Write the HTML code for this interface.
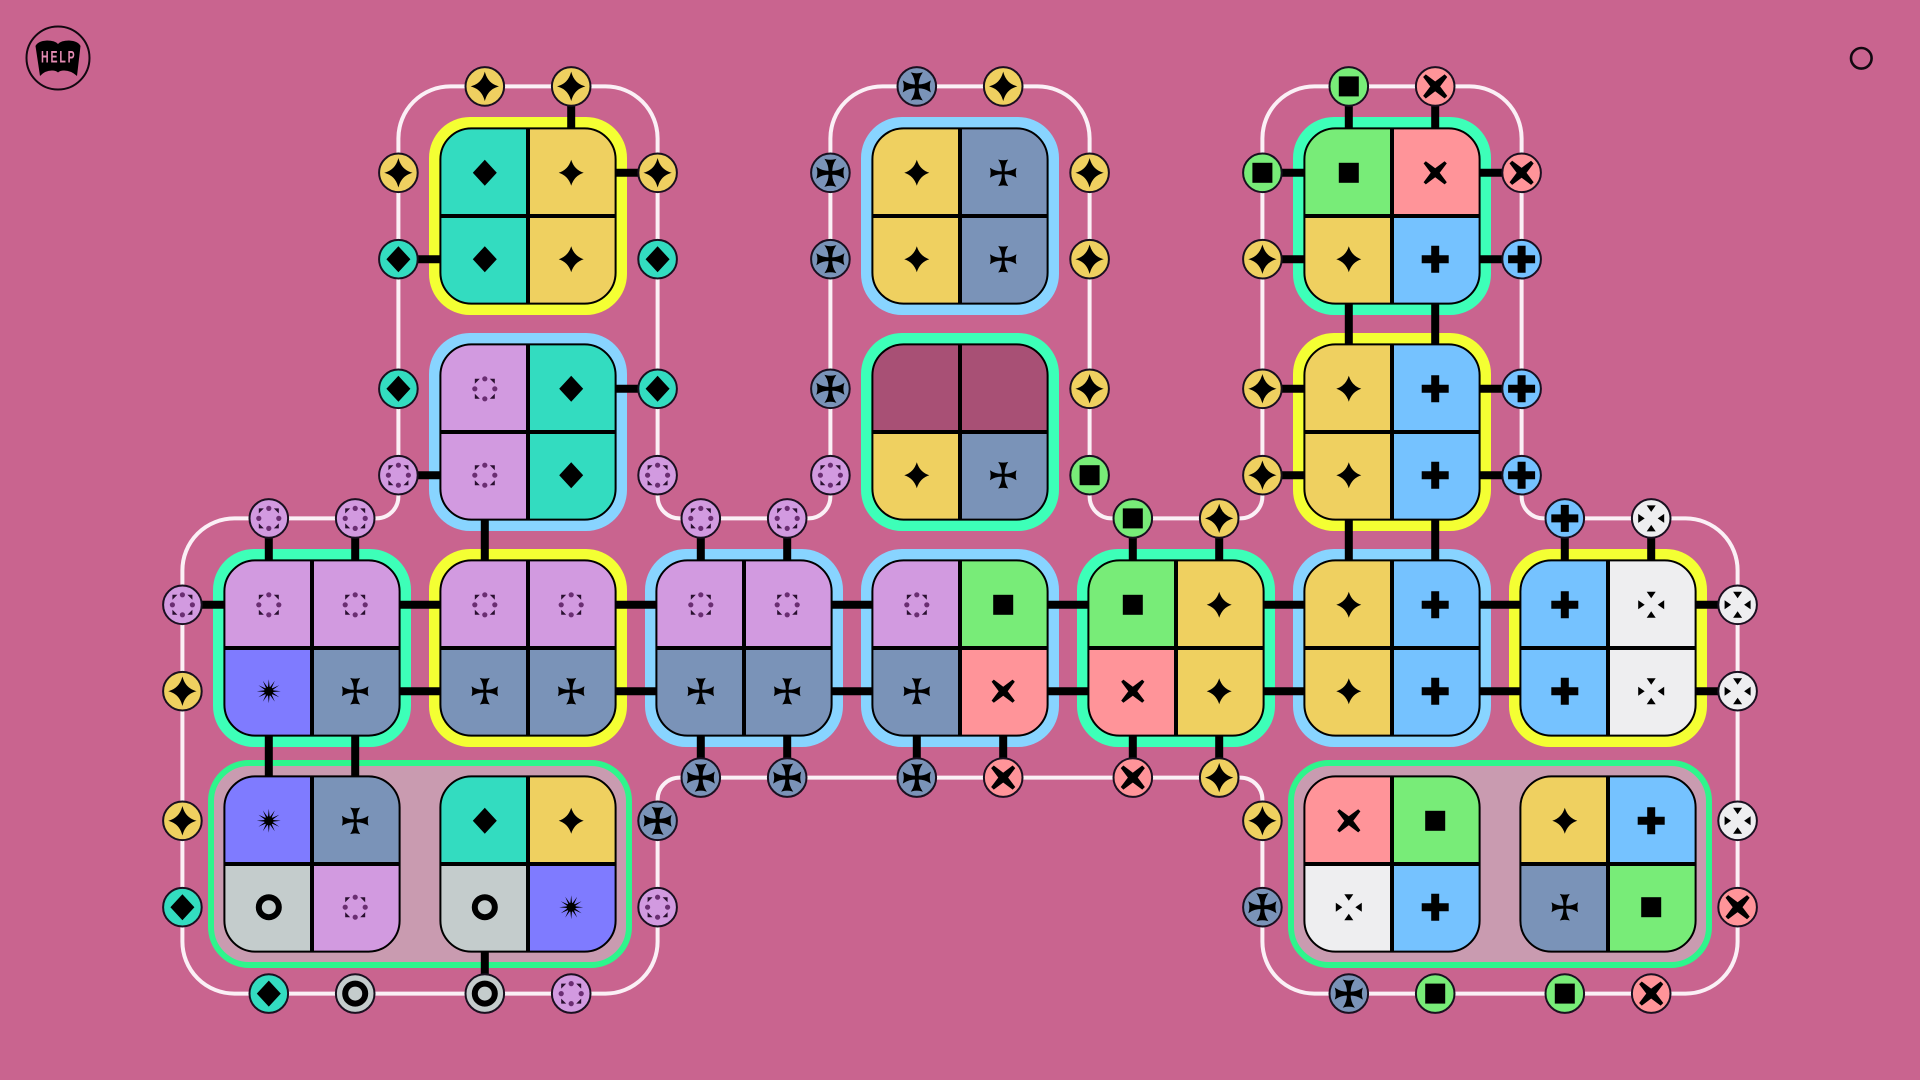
<!DOCTYPE html>
<html lang="en"><head><meta charset="utf-8"><title>Help puzzle</title>
<style>html,body{margin:0;padding:0;background:#C9648F;width:1920px;height:1080px;overflow:hidden}svg{display:block}</style></head>
<body>
<svg xmlns="http://www.w3.org/2000/svg" width="1920" height="1080" viewBox="0 0 1920 1080">
<defs>
<clipPath id="clip"><rect x="-87.6" y="-87.6" width="175.2" height="175.2" rx="31"/></clipPath>
<path id="Gs" d="M0,-13 Q3,-3 12.5,0 Q3,3 0,13 Q-3,3 -12.5,0 Q-3,-3 0,-13Z" fill="#000"/>
<path id="Gd" d="M0,-13 L12,0 L0,13 L-12,0Z" fill="#000"/>
<g id="Go"><g fill="#6A2E72"><circle cx="0" cy="-10" r="2.6"/><circle cx="10" cy="0" r="2.6"/><circle cx="0" cy="10" r="2.6"/><circle cx="-10" cy="0" r="2.6"/></g><g fill="#2A1030"><polygon points="5,-10 10,-10 10,-5"/><polygon points="5,10 10,10 10,5"/><polygon points="-5,10 -10,10 -10,5"/><polygon points="-5,-10 -10,-10 -10,-5"/></g></g>
<path id="Gl" d="M-1.4,-1.4 Q-1.4,-8 -5,-13.3 Q0,-11.8 5,-13.3 Q1.4,-8 1.4,-1.4 Q8,-1.4 13.3,-5 Q11.8,0 13.3,5 Q8,1.4 1.4,1.4 Q1.4,8 5,13.3 Q0,11.8 -5,13.3 Q-1.4,8 -1.4,1.4 Q-8,1.4 -13.3,5 Q-11.8,0 -13.3,-5 Q-8,-1.4 -1.4,-1.4Z" fill="#000"/>
<rect id="Gg" x="-10" y="-10" width="20" height="20" fill="#000"/>
<polygon id="Gx" points="0,-4.5 9.4,-11.6 11.6,-9.4 4.5,0 11.6,9.4 9.4,11.6 0,4.5 -9.4,11.6 -11.6,9.4 -4.5,0 -11.6,-9.4 -9.4,-11.6" fill="#000"/>
<path id="Gp" d="M-4,-13.5 H4 V-4 H13.5 V4 H4 V13.5 H-4 V4 H-13.5 V-4 H-4Z" fill="#000"/>
<path id="Gw" d="M-4.5,-13 H4.5 L0,-6.5Z M-4.5,13 H4.5 L0,6.5Z M-13,-4.5 V4.5 L-6.5,0Z M13,-4.5 V4.5 L6.5,0Z" fill="#000"/>
<g id="Gb" fill="#000"><circle r="4.6"/><polygon points="12,0 3.4,.9 10.4,6 2.5,2.5 6,10.4 .9,3.4 0,12 -.9,3.4 -6,10.4 -2.5,2.5 -10.4,6 -3.4,.9 -12,0 -3.4,-.9 -10.4,-6 -2.5,-2.5 -6,-10.4 -.9,-3.4 0,-12 .9,-3.4 6,-10.4 2.5,-2.5 10.4,-6 3.4,-.9"/></g>
<circle id="Gr" r="10" fill="none" stroke="#000" stroke-width="6"/>

<g id="cs"><rect x="-43.8" y="-43.8" width="87.6" height="87.6" fill="#EFD060"/><use href="#Gs"/></g>
<g id="cd"><rect x="-43.8" y="-43.8" width="87.6" height="87.6" fill="#33DCC0"/><use href="#Gd"/></g>
<g id="co"><rect x="-43.8" y="-43.8" width="87.6" height="87.6" fill="#D29AE0"/><use href="#Go"/></g>
<g id="cl"><rect x="-43.8" y="-43.8" width="87.6" height="87.6" fill="#7A93B8"/><use href="#Gl"/></g>
<g id="cg"><rect x="-43.8" y="-43.8" width="87.6" height="87.6" fill="#78EC78"/><use href="#Gg"/></g>
<g id="cx"><rect x="-43.8" y="-43.8" width="87.6" height="87.6" fill="#FF9499"/><use href="#Gx"/></g>
<g id="cp"><rect x="-43.8" y="-43.8" width="87.6" height="87.6" fill="#75C2FF"/><use href="#Gp"/></g>
<g id="cw"><rect x="-43.8" y="-43.8" width="87.6" height="87.6" fill="#EEEEF0"/><use href="#Gw"/></g>
<g id="cb"><rect x="-43.8" y="-43.8" width="87.6" height="87.6" fill="#7F7BFF"/><use href="#Gb"/></g>
<g id="cr"><rect x="-43.8" y="-43.8" width="87.6" height="87.6" fill="#C4CCCC"/><use href="#Gr"/></g>
<rect id="ck" x="-43.8" y="-43.8" width="87.6" height="87.6" fill="#A85075"/>

<g id="F"><rect x="-2" y="-87.6" width="4" height="175.2" fill="#000"/><rect x="-87.6" y="-2" width="175.2" height="4" fill="#000"/><rect x="-87.6" y="-87.6" width="175.2" height="175.2" rx="31" fill="none" stroke="#000" stroke-width="2"/></g>

<g id="ps"><circle r="19.3" fill="#EFD060" stroke="#1A1020" stroke-width="2"/><use href="#Gs" stroke="#000" stroke-width="1"/></g>
<g id="pd"><circle r="19.3" fill="#33DCC0" stroke="#1A1020" stroke-width="2"/><use href="#Gd"/></g>
<g id="po"><circle r="19.3" fill="#D29AE0" stroke="#1A1020" stroke-width="2"/><use href="#Go"/></g>
<g id="pl"><circle r="19.3" fill="#7A93B8" stroke="#1A1020" stroke-width="2"/><use href="#Gl" stroke="#000" stroke-width=".9"/></g>
<g id="pg"><circle r="19.3" fill="#78EC78" stroke="#1A1020" stroke-width="2"/><use href="#Gg"/></g>
<g id="px"><circle r="19.3" fill="#FF9499" stroke="#1A1020" stroke-width="2"/><use href="#Gx" stroke="#000" stroke-width=".7"/></g>
<g id="pp"><circle r="19.3" fill="#75C2FF" stroke="#1A1020" stroke-width="2"/><use href="#Gp"/></g>
<g id="pw"><circle r="19.3" fill="#EEEEF0" stroke="#1A1020" stroke-width="2"/><use href="#Gw"/></g>
<g id="pr"><circle r="19.3" fill="#C4CCCC" stroke="#1A1020" stroke-width="2"/><use href="#Gr"/></g>

<rect id="By" x="-99" y="-99" width="198" height="198" rx="41" fill="#F4FF33"/>
<rect id="Bb" x="-99" y="-99" width="198" height="198" rx="41" fill="#88D4FF"/>
<rect id="Bg" x="-99" y="-99" width="198" height="198" rx="41" fill="#3DFFB8"/>
</defs>

<rect width="1920" height="1080" fill="#C9648F"/>

<!-- help icon -->
<circle cx="58" cy="58" r="31.5" fill="none" stroke="#120810" stroke-width="2"/>
<path d="M35.5,46 Q38,41 47,40.5 Q55,40.5 58,44 Q61,40.5 69,40.5 Q78,41 80.5,46 L77,76 Q71,70.5 64,70.5 Q60,70.5 58,72.5 Q56,70.5 52,70.5 Q45,70.5 40,76 Z" fill="#000"/>
<text transform="translate(58.8,62.5) scale(.62,1)" text-anchor="middle" font-family="'Liberation Sans',sans-serif" font-weight="700" font-size="17" letter-spacing="3" fill="#E58DB4">HELP</text>
<circle cx="1861.3" cy="58.3" r="10.3" fill="none" stroke="#120810" stroke-width="2.6"/>

<!-- rail -->
<path fill="none" stroke="#FBF0F6" stroke-width="4" d="M182.4,570.4 A52 52 0 0 1 234.4,518.4 H376.4 A22 22 0 0 0 398.4,496.4 V138.4 A52 52 0 0 1 450.4,86.4 H605.6 A52 52 0 0 1 657.6,138.4 V496.4 A22 22 0 0 0 679.6,518.4 H808.4 A22 22 0 0 0 830.4,496.4 V138.4 A52 52 0 0 1 882.4,86.4 H1037.6 A52 52 0 0 1 1089.6,138.4 V496.4 A22 22 0 0 0 1111.6,518.4 H1240.4 A22 22 0 0 0 1262.4,496.4 V138.4 A52 52 0 0 1 1314.4,86.4 H1469.6 A52 52 0 0 1 1521.6,138.4 V496.4 A22 22 0 0 0 1543.6,518.4 H1685.6 A52 52 0 0 1 1737.6,570.4 V941.6 A52 52 0 0 1 1685.6,993.6 H1314.4 A52 52 0 0 1 1262.4,941.6 V799.6 A22 22 0 0 0 1240.4,777.6 H679.6 A22 22 0 0 0 657.6,799.6 V941.6 A52 52 0 0 1 605.6,993.6 H234.4 A52 52 0 0 1 182.4,941.6 Z"/>

<!-- borders -->
<use href="#By" x="528" y="216"/>
<use href="#Bb" x="528" y="432"/>
<use href="#Bb" x="960" y="216"/>
<use href="#Bg" x="960" y="432"/>
<use href="#Bg" x="1392" y="216"/>
<use href="#By" x="1392" y="432"/>
<use href="#Bg" x="312" y="648"/>
<use href="#By" x="528" y="648"/>
<use href="#Bb" x="744" y="648"/>
<use href="#Bb" x="960" y="648"/>
<use href="#Bg" x="1176" y="648"/>
<use href="#Bb" x="1392" y="648"/>
<use href="#By" x="1608" y="648"/>
<rect x="211" y="763" width="418" height="202" rx="38" fill="#C99BB0" stroke="#2EF58C" stroke-width="6"/>
<rect x="1291" y="763" width="418" height="202" rx="38" fill="#C99BB0" stroke="#2EF58C" stroke-width="6"/>

<!-- connectors -->
<g stroke="#000" stroke-width="8" fill="none">
<path d="M571.2,86.4V216 M528,172.8H657.6 M398.4,259.2H528 M528,388.8H657.6 M398.4,475.2H528 M484.8,432V648"/>
<path d="M1348.8,86.4V648 M1435.2,86.4V648 M1392,172.8H1521.6 M1392,259.2H1521.6 M1262.4,259.2H1392 M1262.4,172.8H1392 M1392,388.8H1521.6 M1392,475.2H1521.6 M1262.4,388.8H1392 M1262.4,475.2H1392"/>
<path d="M182.4,604.8H1737.6 M312,691.2H1737.6"/>
<path d="M268.8,518.4V864 M355.2,518.4V864 M700.8,518.4V777.6 M787.2,518.4V777.6 M916.8,648V777.6 M1003.2,648V777.6 M1132.8,518.4V777.6 M1219.2,518.4V777.6 M1564.8,518.4V648 M1651.2,518.4V648 M484.8,864V993.6"/>
</g>

<!-- tiles -->
<g transform="translate(528,216)"><g clip-path="url(#clip)"><use href="#cd" x="-43.2" y="-43.2"/><use href="#cs" x="43.2" y="-43.2"/><use href="#cd" x="-43.2" y="43.2"/><use href="#cs" x="43.2" y="43.2"/></g><use href="#F"/></g>
<g transform="translate(528,432)"><g clip-path="url(#clip)"><use href="#co" x="-43.2" y="-43.2"/><use href="#cd" x="43.2" y="-43.2"/><use href="#co" x="-43.2" y="43.2"/><use href="#cd" x="43.2" y="43.2"/></g><use href="#F"/></g>
<g transform="translate(960,216)"><g clip-path="url(#clip)"><use href="#cs" x="-43.2" y="-43.2"/><use href="#cl" x="43.2" y="-43.2"/><use href="#cs" x="-43.2" y="43.2"/><use href="#cl" x="43.2" y="43.2"/></g><use href="#F"/></g>
<g transform="translate(960,432)"><g clip-path="url(#clip)"><use href="#ck" x="-43.2" y="-43.2"/><use href="#ck" x="43.2" y="-43.2"/><use href="#cs" x="-43.2" y="43.2"/><use href="#cl" x="43.2" y="43.2"/></g><use href="#F"/></g>
<g transform="translate(1392,216)"><g clip-path="url(#clip)"><use href="#cg" x="-43.2" y="-43.2"/><use href="#cx" x="43.2" y="-43.2"/><use href="#cs" x="-43.2" y="43.2"/><use href="#cp" x="43.2" y="43.2"/></g><use href="#F"/></g>
<g transform="translate(1392,432)"><g clip-path="url(#clip)"><use href="#cs" x="-43.2" y="-43.2"/><use href="#cp" x="43.2" y="-43.2"/><use href="#cs" x="-43.2" y="43.2"/><use href="#cp" x="43.2" y="43.2"/></g><use href="#F"/></g>
<g transform="translate(312,648)"><g clip-path="url(#clip)"><use href="#co" x="-43.2" y="-43.2"/><use href="#co" x="43.2" y="-43.2"/><use href="#cb" x="-43.2" y="43.2"/><use href="#cl" x="43.2" y="43.2"/></g><use href="#F"/></g>
<g transform="translate(528,648)"><g clip-path="url(#clip)"><use href="#co" x="-43.2" y="-43.2"/><use href="#co" x="43.2" y="-43.2"/><use href="#cl" x="-43.2" y="43.2"/><use href="#cl" x="43.2" y="43.2"/></g><use href="#F"/></g>
<g transform="translate(744,648)"><g clip-path="url(#clip)"><use href="#co" x="-43.2" y="-43.2"/><use href="#co" x="43.2" y="-43.2"/><use href="#cl" x="-43.2" y="43.2"/><use href="#cl" x="43.2" y="43.2"/></g><use href="#F"/></g>
<g transform="translate(960,648)"><g clip-path="url(#clip)"><use href="#co" x="-43.2" y="-43.2"/><use href="#cg" x="43.2" y="-43.2"/><use href="#cl" x="-43.2" y="43.2"/><use href="#cx" x="43.2" y="43.2"/></g><use href="#F"/></g>
<g transform="translate(1176,648)"><g clip-path="url(#clip)"><use href="#cg" x="-43.2" y="-43.2"/><use href="#cs" x="43.2" y="-43.2"/><use href="#cx" x="-43.2" y="43.2"/><use href="#cs" x="43.2" y="43.2"/></g><use href="#F"/></g>
<g transform="translate(1392,648)"><g clip-path="url(#clip)"><use href="#cs" x="-43.2" y="-43.2"/><use href="#cp" x="43.2" y="-43.2"/><use href="#cs" x="-43.2" y="43.2"/><use href="#cp" x="43.2" y="43.2"/></g><use href="#F"/></g>
<g transform="translate(1608,648)"><g clip-path="url(#clip)"><use href="#cp" x="-43.2" y="-43.2"/><use href="#cw" x="43.2" y="-43.2"/><use href="#cp" x="-43.2" y="43.2"/><use href="#cw" x="43.2" y="43.2"/></g><use href="#F"/></g>
<g transform="translate(312,864)"><g clip-path="url(#clip)"><use href="#cb" x="-43.2" y="-43.2"/><use href="#cl" x="43.2" y="-43.2"/><use href="#cr" x="-43.2" y="43.2"/><use href="#co" x="43.2" y="43.2"/></g><use href="#F"/></g>
<g transform="translate(528,864)"><g clip-path="url(#clip)"><use href="#cd" x="-43.2" y="-43.2"/><use href="#cs" x="43.2" y="-43.2"/><use href="#cr" x="-43.2" y="43.2"/><use href="#cb" x="43.2" y="43.2"/></g><use href="#F"/></g>
<g transform="translate(1392,864)"><g clip-path="url(#clip)"><use href="#cx" x="-43.2" y="-43.2"/><use href="#cg" x="43.2" y="-43.2"/><use href="#cw" x="-43.2" y="43.2"/><use href="#cp" x="43.2" y="43.2"/></g><use href="#F"/></g>
<g transform="translate(1608,864)"><g clip-path="url(#clip)"><use href="#cs" x="-43.2" y="-43.2"/><use href="#cp" x="43.2" y="-43.2"/><use href="#cl" x="-43.2" y="43.2"/><use href="#cg" x="43.2" y="43.2"/></g><use href="#F"/></g>

<!-- ports -->
<use href="#ps" x="484.8" y="86.4"/><use href="#ps" x="571.2" y="86.4"/>
<use href="#ps" x="398.4" y="172.8"/><use href="#pd" x="398.4" y="259.2"/><use href="#pd" x="398.4" y="388.8"/><use href="#po" x="398.4" y="475.2"/>
<use href="#ps" x="657.6" y="172.8"/><use href="#pd" x="657.6" y="259.2"/><use href="#pd" x="657.6" y="388.8"/><use href="#po" x="657.6" y="475.2"/>
<use href="#po" x="268.8" y="518.4"/><use href="#po" x="355.2" y="518.4"/><use href="#po" x="700.8" y="518.4"/><use href="#po" x="787.2" y="518.4"/>
<use href="#po" x="182.4" y="604.8"/><use href="#ps" x="182.4" y="691.2"/><use href="#ps" x="182.4" y="820.8"/><use href="#pd" x="182.4" y="907.2"/>
<use href="#pd" x="268.8" y="993.6"/><use href="#pr" x="355.2" y="993.6"/><use href="#pr" x="484.8" y="993.6"/><use href="#po" x="571.2" y="993.6"/>
<use href="#pl" x="657.6" y="820.8"/><use href="#po" x="657.6" y="907.2"/>
<use href="#pl" x="700.8" y="777.6"/><use href="#pl" x="787.2" y="777.6"/><use href="#pl" x="916.8" y="777.6"/><use href="#px" x="1003.2" y="777.6"/><use href="#px" x="1132.8" y="777.6"/><use href="#ps" x="1219.2" y="777.6"/>
<use href="#pl" x="916.8" y="86.4"/><use href="#ps" x="1003.2" y="86.4"/>
<use href="#pl" x="830.4" y="172.8"/><use href="#pl" x="830.4" y="259.2"/><use href="#pl" x="830.4" y="388.8"/><use href="#po" x="830.4" y="475.2"/>
<use href="#ps" x="1089.6" y="172.8"/><use href="#ps" x="1089.6" y="259.2"/><use href="#ps" x="1089.6" y="388.8"/><use href="#pg" x="1089.6" y="475.2"/>
<use href="#pg" x="1132.8" y="518.4"/><use href="#ps" x="1219.2" y="518.4"/>
<use href="#pg" x="1348.8" y="86.4"/><use href="#px" x="1435.2" y="86.4"/>
<use href="#pg" x="1262.4" y="172.8"/><use href="#ps" x="1262.4" y="259.2"/><use href="#ps" x="1262.4" y="388.8"/><use href="#ps" x="1262.4" y="475.2"/>
<use href="#px" x="1521.6" y="172.8"/><use href="#pp" x="1521.6" y="259.2"/><use href="#pp" x="1521.6" y="388.8"/><use href="#pp" x="1521.6" y="475.2"/>
<use href="#pp" x="1564.8" y="518.4"/><use href="#pw" x="1651.2" y="518.4"/>
<use href="#pw" x="1737.6" y="604.8"/><use href="#pw" x="1737.6" y="691.2"/><use href="#pw" x="1737.6" y="820.8"/><use href="#px" x="1737.6" y="907.2"/>
<use href="#pl" x="1348.8" y="993.6"/><use href="#pg" x="1435.2" y="993.6"/><use href="#pg" x="1564.8" y="993.6"/><use href="#px" x="1651.2" y="993.6"/>
<use href="#ps" x="1262.4" y="820.8"/><use href="#pl" x="1262.4" y="907.2"/>
</svg>
</body></html>
